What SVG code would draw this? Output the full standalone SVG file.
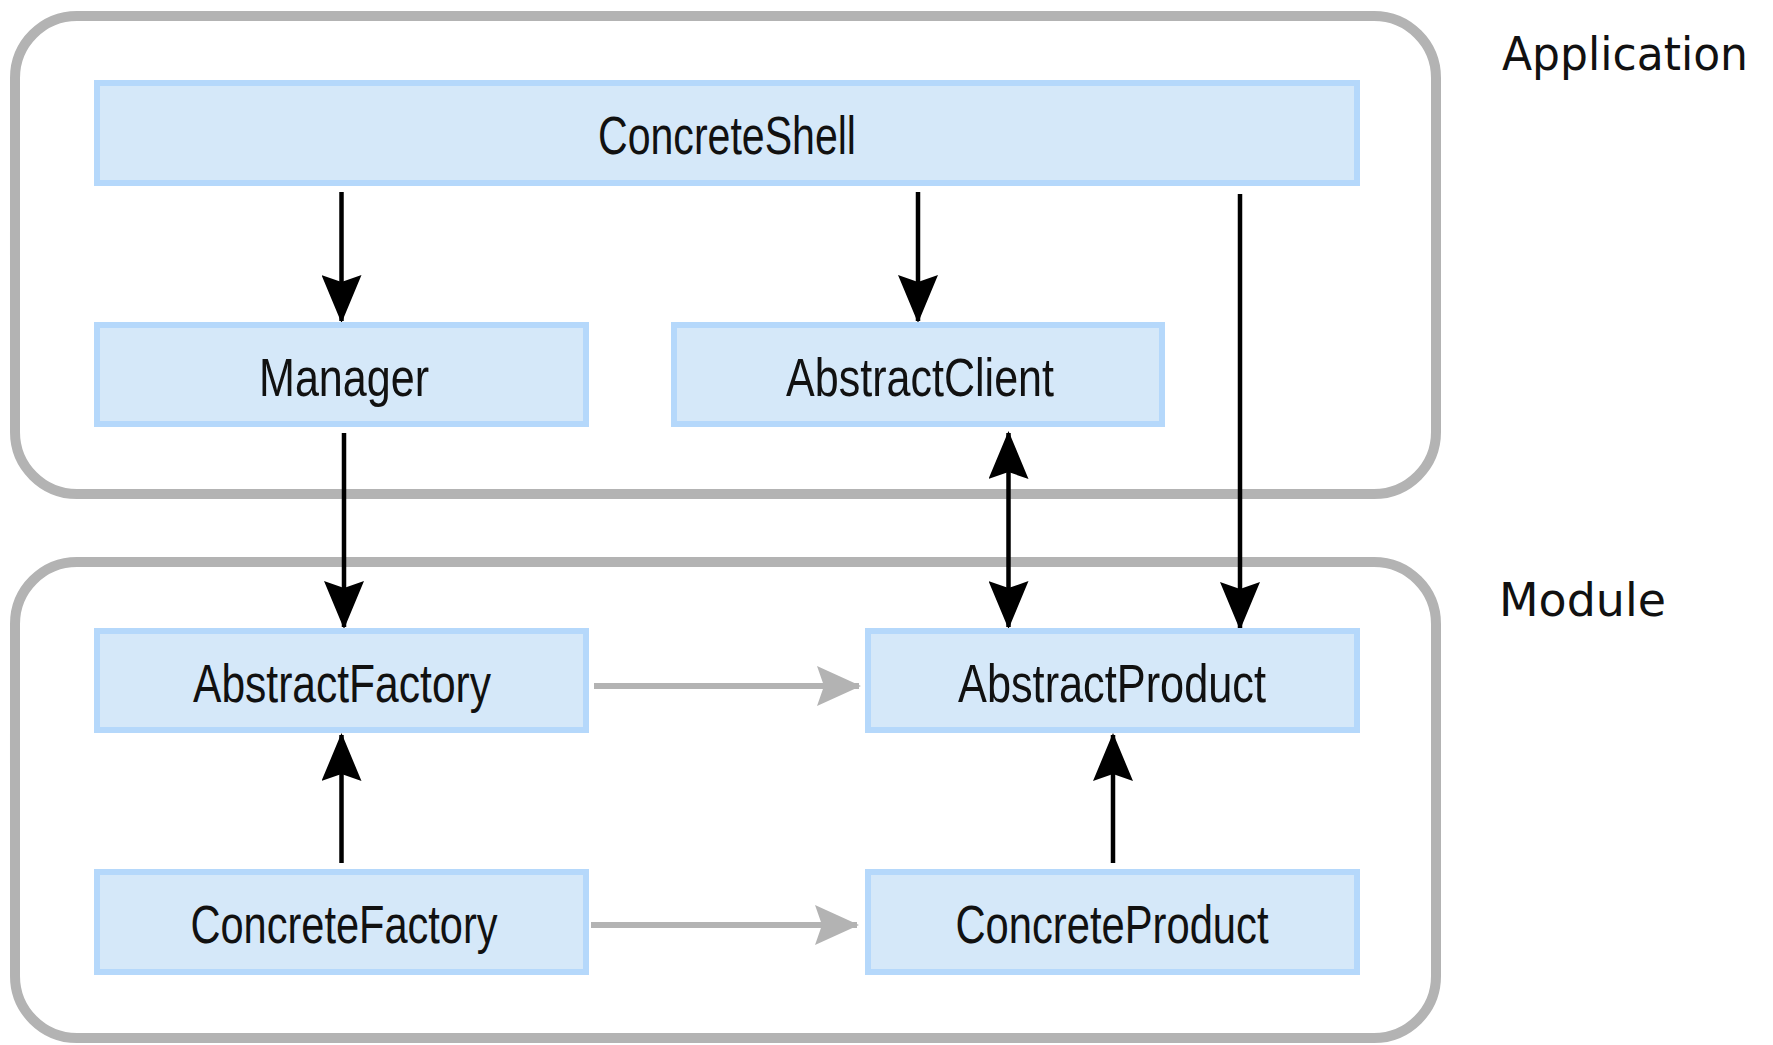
<svg xmlns="http://www.w3.org/2000/svg" width="1773" height="1045" viewBox="0 0 1773 1045">
<style>
.frame{fill:none;stroke:#b3b3b3;stroke-width:10}
.node rect{fill:#d5e8f9;stroke:#b5d8fb;stroke-width:6}
.node text{font-family:"Liberation Sans",Arial,sans-serif;font-size:54px;fill:#111;text-anchor:middle}
.lbl{font-family:"DejaVu Sans","Liberation Sans",sans-serif;font-size:46px;fill:#111}
.blk{stroke:#000;stroke-width:4.5;fill:none}
.gry{stroke:#b3b3b3;stroke-width:6;fill:none}
</style>
<defs>
<marker id="ah" markerUnits="userSpaceOnUse" viewBox="0 0 48 40" refX="46" refY="20" markerWidth="48" markerHeight="40" orient="auto-start-reverse">
<path d="M0,0 L48,20 L0,40 L7,20 z" fill="#000"/>
</marker>
<marker id="ahg" markerUnits="userSpaceOnUse" viewBox="0 0 44 40" refX="42" refY="20" markerWidth="44" markerHeight="40" orient="auto">
<path d="M0,0 L44,20 L0,40 L7,20 z" fill="#b3b3b3"/>
</marker>
</defs>
<rect width="1773" height="1045" fill="#fff"/>
<g id="frames">
<rect class="frame" x="15" y="16" width="1421" height="478" rx="62"/>
<rect class="frame" x="15" y="562" width="1421" height="476" rx="62"/>
<text class="lbl" x="1502" y="70" textLength="246" lengthAdjust="spacingAndGlyphs">Application</text>
<text class="lbl" x="1499" y="616" textLength="167" lengthAdjust="spacingAndGlyphs">Module</text>
</g>
<g id="connectors">
<line class="blk" x1="341.5" y1="192" x2="341.5" y2="321" marker-end="url(#ah)"/>
<line class="blk" x1="918" y1="192" x2="918" y2="321" marker-end="url(#ah)"/>
<line class="blk" x1="1240" y1="194" x2="1240" y2="628" marker-end="url(#ah)"/>
<line class="blk" x1="344" y1="433" x2="344" y2="627" marker-end="url(#ah)"/>
<line class="blk" x1="1008.5" y1="433" x2="1008.5" y2="627" marker-start="url(#ah)" marker-end="url(#ah)"/>
<line class="blk" x1="341.5" y1="863" x2="341.5" y2="735" marker-end="url(#ah)"/>
<line class="blk" x1="1113" y1="863" x2="1113" y2="735" marker-end="url(#ah)"/>
<line class="gry" x1="594" y1="686" x2="859" y2="686" marker-end="url(#ahg)"/>
<line class="gry" x1="591" y1="925" x2="857" y2="925" marker-end="url(#ahg)"/>
</g>
<g id="ConcreteShell" class="node"><rect x="97" y="83" width="1260" height="100"/><text x="727" y="154" textLength="258" lengthAdjust="spacingAndGlyphs">ConcreteShell</text></g>
<g id="Manager" class="node"><rect x="97" y="325" width="489" height="99"/><text x="344" y="396" textLength="170" lengthAdjust="spacingAndGlyphs">Manager</text></g>
<g id="AbstractClient" class="node"><rect x="674" y="325" width="488" height="99"/><text x="920" y="396" textLength="268" lengthAdjust="spacingAndGlyphs">AbstractClient</text></g>
<g id="AbstractFactory" class="node"><rect x="97" y="631" width="489" height="99"/><text x="342" y="702" textLength="298" lengthAdjust="spacingAndGlyphs">AbstractFactory</text></g>
<g id="AbstractProduct" class="node"><rect x="868" y="631" width="489" height="99"/><text x="1112" y="702" textLength="308" lengthAdjust="spacingAndGlyphs">AbstractProduct</text></g>
<g id="ConcreteFactory" class="node"><rect x="97" y="872" width="489" height="100"/><text x="344" y="943" textLength="307" lengthAdjust="spacingAndGlyphs">ConcreteFactory</text></g>
<g id="ConcreteProduct" class="node"><rect x="868" y="872" width="489" height="100"/><text x="1112" y="943" textLength="313" lengthAdjust="spacingAndGlyphs">ConcreteProduct</text></g>
</svg>
